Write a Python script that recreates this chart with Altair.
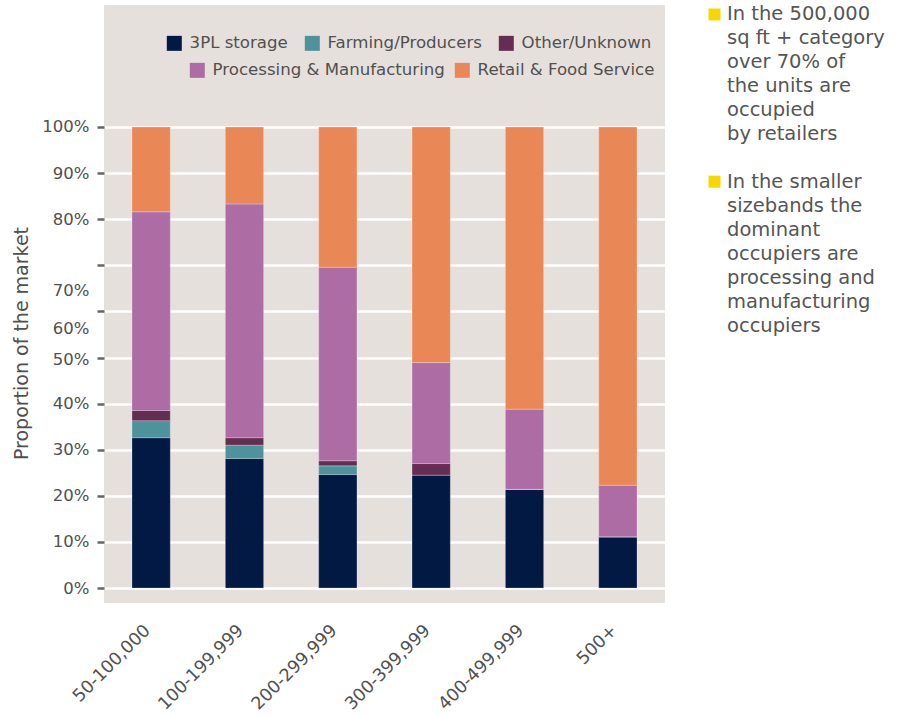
import altair as alt
import pandas as pd

bands = ["50-100,000", "100-199,999", "200-299,999", "300-399,999", "400-499,999", "500+"]
categories = ["3PL storage", "Farming/Producers", "Other/Unknown",
              "Processing & Manufacturing", "Retail & Food Service"]
three_pl = [32.6, 28.1, 24.6, 24.5, 21.4, 11.1]
farming = [3.7, 2.9, 1.9, 0.0, 0.0, 0.0]
other = [2.2, 1.6, 1.1, 2.5, 0.0, 0.0]
processing = [43.1, 50.7, 42.0, 21.9, 17.4, 11.2]
retail = [18.4, 16.7, 30.4, 51.1, 61.2, 77.7]
colors = ["#011943", "#4e939b", "#652d52", "#ad6ca4", "#e98856"]
tick_values = [0.0, 0.1, 0.2, 0.3, 0.4, 0.5, 0.6, 0.7, 0.8, 0.9, 1.0]

note1 = ["In the 500,000", "sq ft + category", "over 70% of", "the units are",
         "occupied", "by retailers"]
note2 = ["In the smaller", "sizebands the", "dominant", "occupiers are",
         "processing and", "manufacturing", "occupiers"]

FONT = "DejaVu Sans"
TXT = "#505050"

series = [three_pl, farming, other, processing, retail]
rows = []
for i, b in enumerate(bands):
    for j, cat in enumerate(categories):
        rows.append({"band": b, "category": cat, "order": j, "value": series[j][i] / 100})
df = pd.DataFrame(rows)

g1, g2 = categories[:3], categories[3:]
c1, c2 = colors[:3], colors[3:]

base = alt.Chart(df).transform_stack(
    stack="value", groupby=["band"], as_=["y0", "y1"],
    sort=[alt.SortField("order", order="ascending")]
)

x_axis = alt.Axis(title=None, labelAngle=-45, labelAlign="right", labelBaseline="alphabetic",
                  ticks=False, domain=False,
                  labelFontSize=17.5, labelColor=TXT, labelFont=FONT, labelPadding=28)
y_axis = alt.Axis(values=tick_values, format=".0%", title="Proportion of the market",
                  domain=False, grid=True, gridColor="white", gridWidth=2.5,
                  tickColor="#666666", tickSize=7, tickWidth=2.5,
                  labelFontSize=16.5, labelColor=TXT, labelFont=FONT, labelPadding=8,
                  labelOffset={"expr": "datum.value > 0.65 && datum.value < 0.75 ? 25 : (datum.value > 0.55 && datum.value < 0.65 ? 17 : (datum.value > 0.45 && datum.value < 0.55 ? 2 : 0))"},
                  titleFontSize=19, titleFontWeight="normal", titleColor=TXT, titleFont=FONT,
                  titleAngle=270, titleAlign="center", titleBaseline="middle",
                  titleX=-83, titleY=338)
y_scale = alt.Scale(domain=[-0.0325, 1.2646], nice=False, zero=False)
x_scale = alt.Scale(paddingInner=0.59, paddingOuter=0.3)

def legend(lx, ly, colpad):
    return alt.Legend(orient="none", legendX=lx, legendY=ly, direction="horizontal",
                      title=None, symbolType="square", symbolSize=225, symbolStrokeWidth=0,
                      symbolOpacity=1, labelFontSize=16.6, labelColor=TXT, labelFont=FONT,
                      labelOffset=7, labelLimit=0, columnPadding=colpad, padding=0)

bar_style = dict(stroke="white", strokeOpacity=0.3, strokeWidth=0.8)

layer_a = base.transform_filter(alt.FieldOneOfPredicate(field="category", oneOf=g1)).mark_bar(**bar_style).encode(
    x=alt.X("band:N", sort=bands, scale=x_scale, axis=x_axis),
    y=alt.Y("y0:Q", scale=y_scale, axis=y_axis),
    y2="y1:Q",
    color=alt.Color("category:N", scale=alt.Scale(domain=g1, range=c1), legend=legend(62, 30, 16)),
)
layer_b = base.transform_filter(alt.FieldOneOfPredicate(field="category", oneOf=g2)).mark_bar(**bar_style).encode(
    x=alt.X("band:N", sort=bands, scale=x_scale, axis=x_axis),
    y=alt.Y("y0:Q", scale=y_scale, axis=y_axis),
    y2="y1:Q",
    color=alt.Color("category:N", scale=alt.Scale(domain=g2, range=c2), legend=legend(85, 57, 9)),
)

notes = pd.DataFrame({"t": ["\n".join(note1), "\n".join(note2)], "k": [0, 1]})

def note_layer(k, top):
    return alt.Chart(notes).transform_filter(f"datum.k == {k}").mark_text(
        align="left", baseline="top", font=FONT, fontSize=19.5, color="#555555",
        lineBreak="\n", lineHeight=24
    ).encode(text="t:N", x=alt.value(623), y=alt.value(top))

def square_layer(k, cy):
    return alt.Chart(notes).transform_filter(f"datum.k == {k}").mark_point(
        shape="square", filled=True, color="#f5d800", opacity=1, size=144
    ).encode(x=alt.value(610.5), y=alt.value(cy))

chart = alt.layer(
    layer_a, layer_b,
    note_layer(0, -0.5), note_layer(1, 168),
    square_layer(0, 9.5), square_layer(1, 176.7),
).resolve_scale(
    color="independent"
).properties(
    width=561, height=598,
    background="white",
    autosize=alt.AutoSizeParams(type="none"),
    padding={"left": 104, "top": 5, "right": 232, "bottom": 113},
).configure_view(fill="#e6e0dc", strokeWidth=0)

chart.save("out.html", embed_options={"renderer": "svg", "actions": False})
